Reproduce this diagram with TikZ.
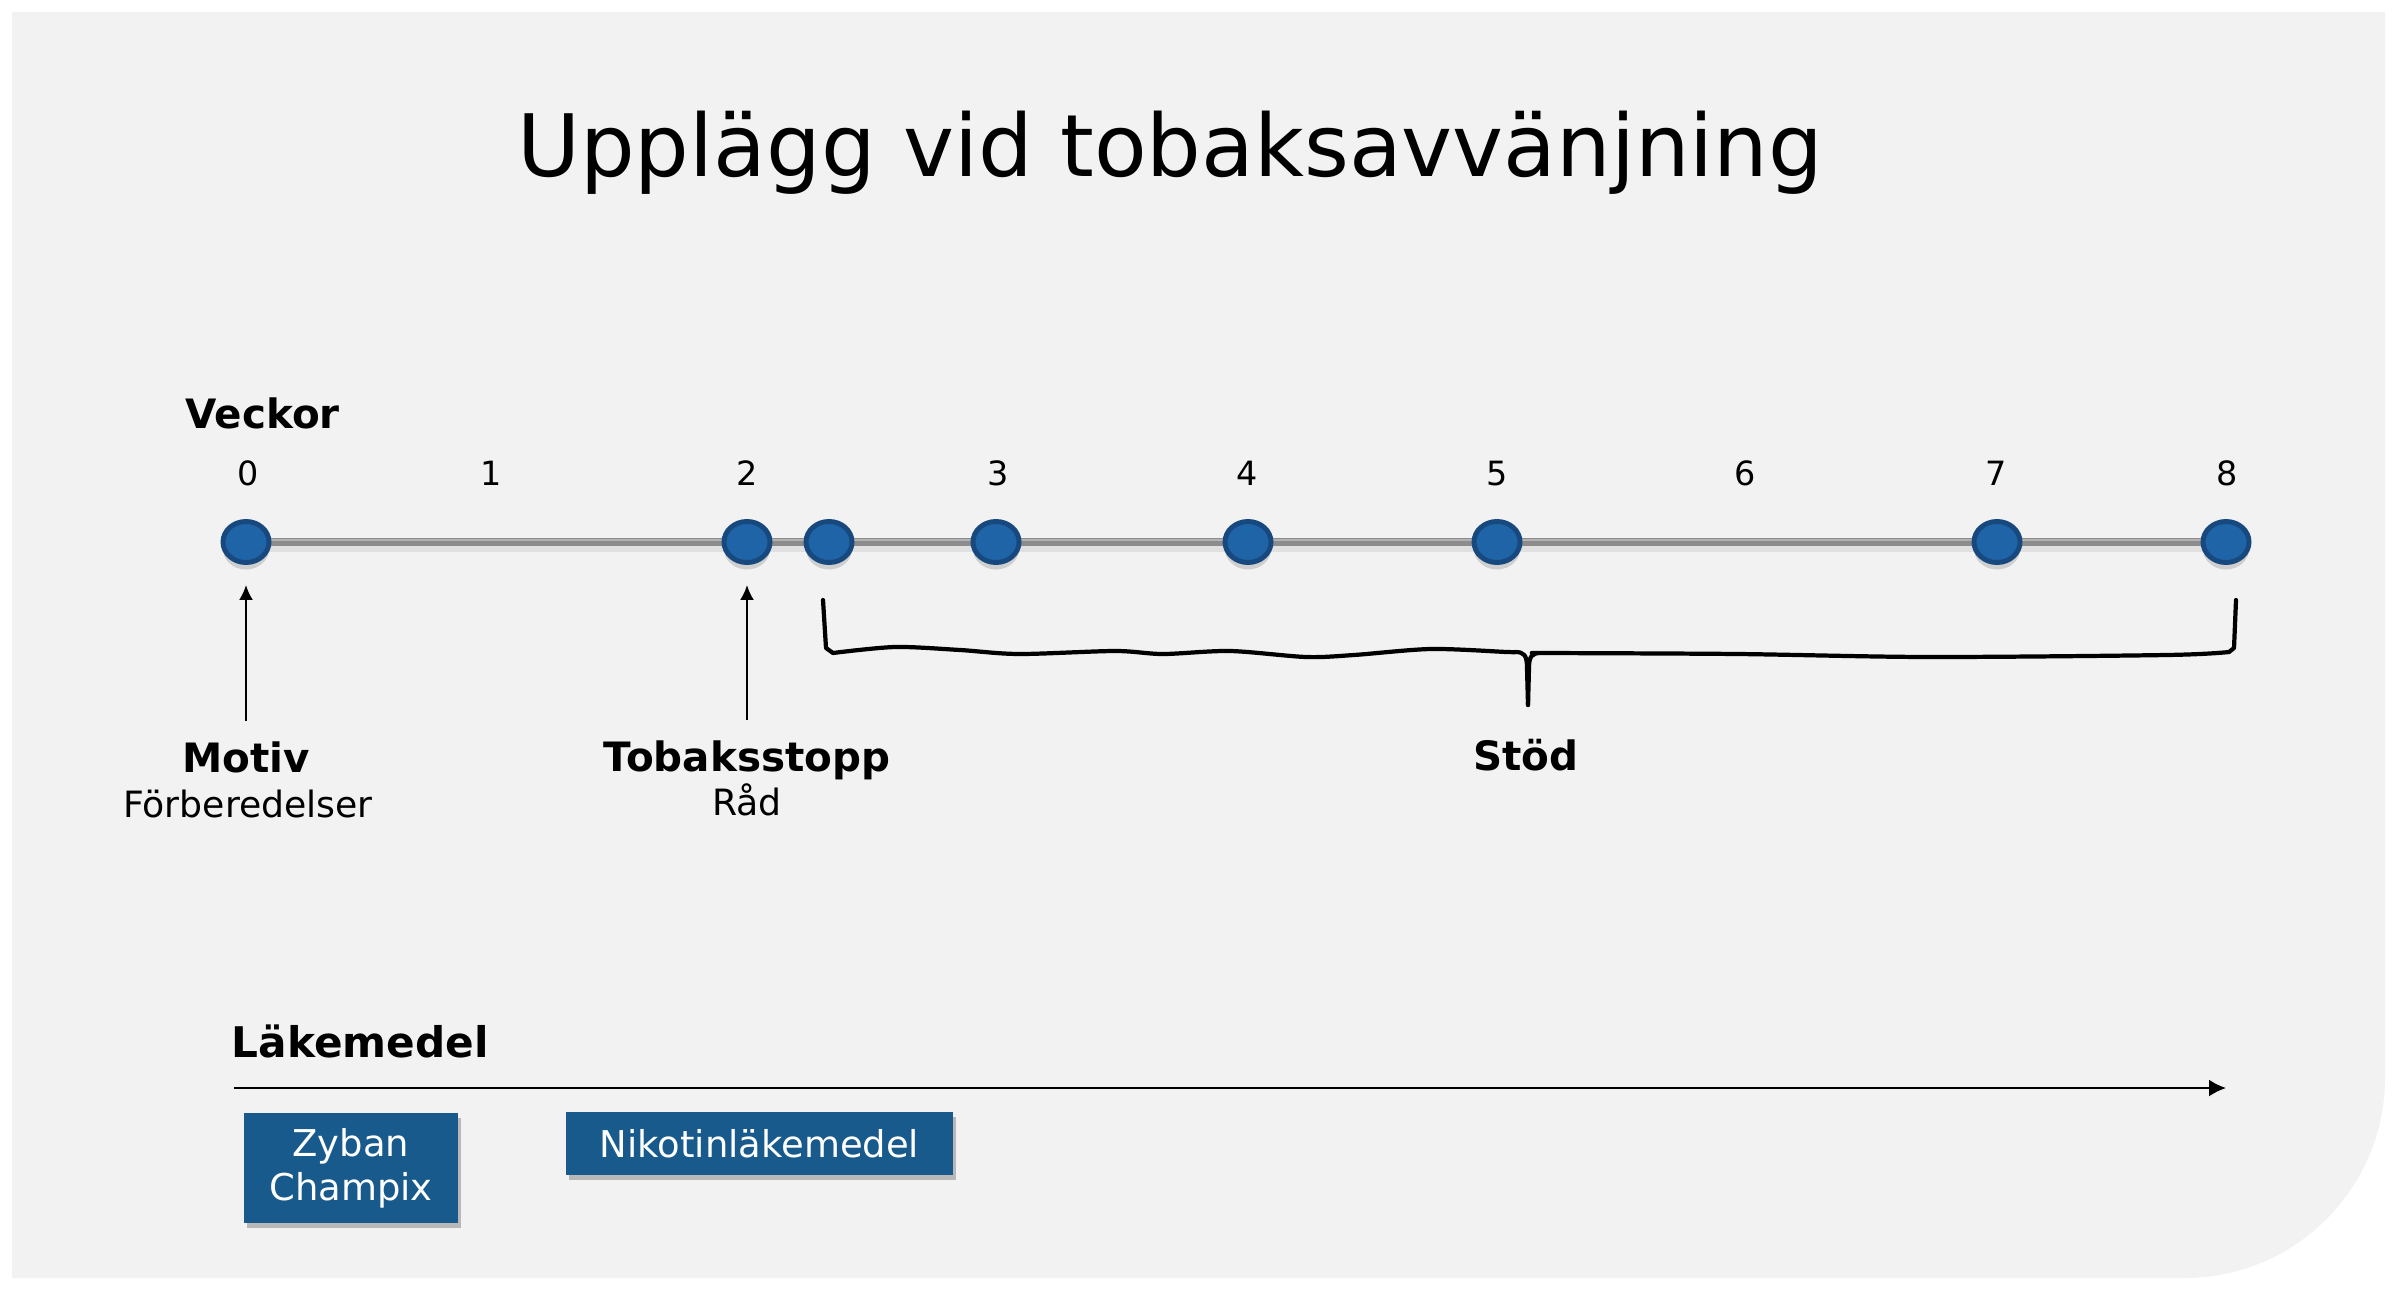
\documentclass[tikz,border=0pt]{standalone}
\usepackage{fontspec}
\setmainfont{DejaVu Sans}
\usetikzlibrary{arrows.meta,shapes.geometric,shadows,positioning}
\definecolor{panelGray}{RGB}{242,242,242}
\definecolor{dotBlue}{RGB}{31,100,166}
\definecolor{dotEdge}{RGB}{23,73,127}
\definecolor{boxBlue}{RGB}{24,90,140}
\definecolor{lineGray}{RGB}{140,140,140}
\pgfdeclarelayer{bg}
\pgfsetlayers{bg,main}

\begin{document}
\begin{tikzpicture}
[x=0.01cm,y=-0.01cm,
  dotDecorate/.style={shape=ellipse,minimum width=0.46cm,minimum height=0.41cm,inner sep=0pt,
    fill=dotBlue,draw=dotEdge,line width=1.4pt,
    drop shadow={shadow xshift=0pt,shadow yshift=-0.07cm,opacity=0.3}},
  weekDecorate/.style={font=\fontsize{9.5}{11}\selectfont,inner sep=0pt},
  headDecorate/.style={font=\fontsize{11.5}{13}\selectfont\bfseries,inner sep=0pt},
  subDecorate/.style={font=\fontsize{10.3}{12}\selectfont,inner sep=0pt},
  pointerDecorate/.style={-{Latex[length=0.15cm,width=0.14cm]},line width=0.6pt,
    shorten <=0.2cm,shorten >=0.2cm},
  braceDecorate/.style={line width=1.2pt,line cap=round,line join=round},
  boxDecorate/.style={fill=boxBlue,text=white,align=center,inner sep=0pt,
    font=\fontsize{10.5}{12.6}\selectfont,
    drop shadow={shadow xshift=0.03cm,shadow yshift=-0.05cm,opacity=0.5}}]
\useasboundingbox (0,0) rectangle (2400,1291);
%% panel
\begin{pgfonlayer}{bg}
\fill[panelGray] (12,12) -- (2385,12) -- (2385,1078)
  .. controls (2385,1188) and (2295,1278) .. (2185,1278) -- (12,1278) -- cycle;
\end{pgfonlayer}
%% title
\node (title) at (1170,177) [anchor=base,font=\fontsize{24.5}{28}\selectfont] {Upplägg vid tobaksavvänjning};
%% weeks
\node (veckor) at (185,428) [headDecorate,anchor=base west] {Veckor};
\foreach \nodename/\x in {0/248, 1/491, 2/747, 3/998, 4/1247, 5/1497, 6/1745, 7/1996, 8/2227}
{
  \node (n\nodename) at (\x,485) [weekDecorate,anchor=base] {\nodename};
}
%% timeline dots
\foreach \nodename/\x in {0/246, 2/747, 2b/829, 3/996, 4/1248, 5/1497, 7/1997, 8/2226}
{
  \node (w\nodename) at (\x,542) [dotDecorate] {};
}
\begin{pgfonlayer}{bg}
\draw[line width=3pt,black!12] ([yshift=-0.05cm]w0.center) -- ([yshift=-0.05cm]w8.center);
\draw[line width=2pt,lineGray] (w0.center) -- (w8.center);
\draw[line width=0.5pt,black!30] ([yshift=0.02cm]w0.center) -- ([yshift=0.02cm]w8.center);
\end{pgfonlayer}
%% milestones
\node (motiv) at (246,772) [headDecorate,anchor=base] {Motiv};
\node (motivsub) at (248,817) [subDecorate,anchor=base] {Förberedelser};
\node (stopp) at (747,771) [headDecorate,anchor=base] {Tobaksstopp};
\node (stoppsub) at (747,815) [subDecorate,anchor=base] {Råd};
\draw[pointerDecorate] (motiv) -- (w0);
\draw[pointerDecorate] (stopp) -- (w2);
%% brace
\draw[braceDecorate] (823,600) -- (826,648) -- plot[smooth] coordinates {(833,653) (895,647)
  (960,650) (1019,654) (1115,651) (1163,654) (1230,651) (1306,657) (1354,655) (1431,649)
  (1507,652) (1515,652)} .. controls (1524,652) and (1527,655) .. (1527,668) -- (1528,705);
\draw[braceDecorate] (2236,600) -- (2234,648) -- plot[smooth] coordinates {(2229,652)
  (2167,655) (1928,657) (1737,654) (1545,653) (1541,653)}
  .. controls (1532,653) and (1529,656) .. (1529,668) -- (1528,705);
\node (stod) at (1526,770) [headDecorate,anchor=base] {Stöd};
%% medicines
\node (lakemedel) at (231,1057) [anchor=base west,inner sep=0pt,
  font=\fontsize{12}{14}\selectfont\bfseries] {Läkemedel};
\coordinate (tstart) at (234,1088);
\coordinate (tend) at (2226,1088);
\draw[-{Latex[length=0.17cm,width=0.17cm]},line width=0.6pt] (tstart) -- (tend);
\node (zyban) at (351,1168) [boxDecorate,minimum width=2.14cm,minimum height=1.10cm] {Zyban\\Champix};
\node (nikotin) at (759.5,1143.5) [boxDecorate,minimum width=3.87cm,minimum height=0.63cm] {Nikotinläkemedel};
\end{tikzpicture}
\end{document}
